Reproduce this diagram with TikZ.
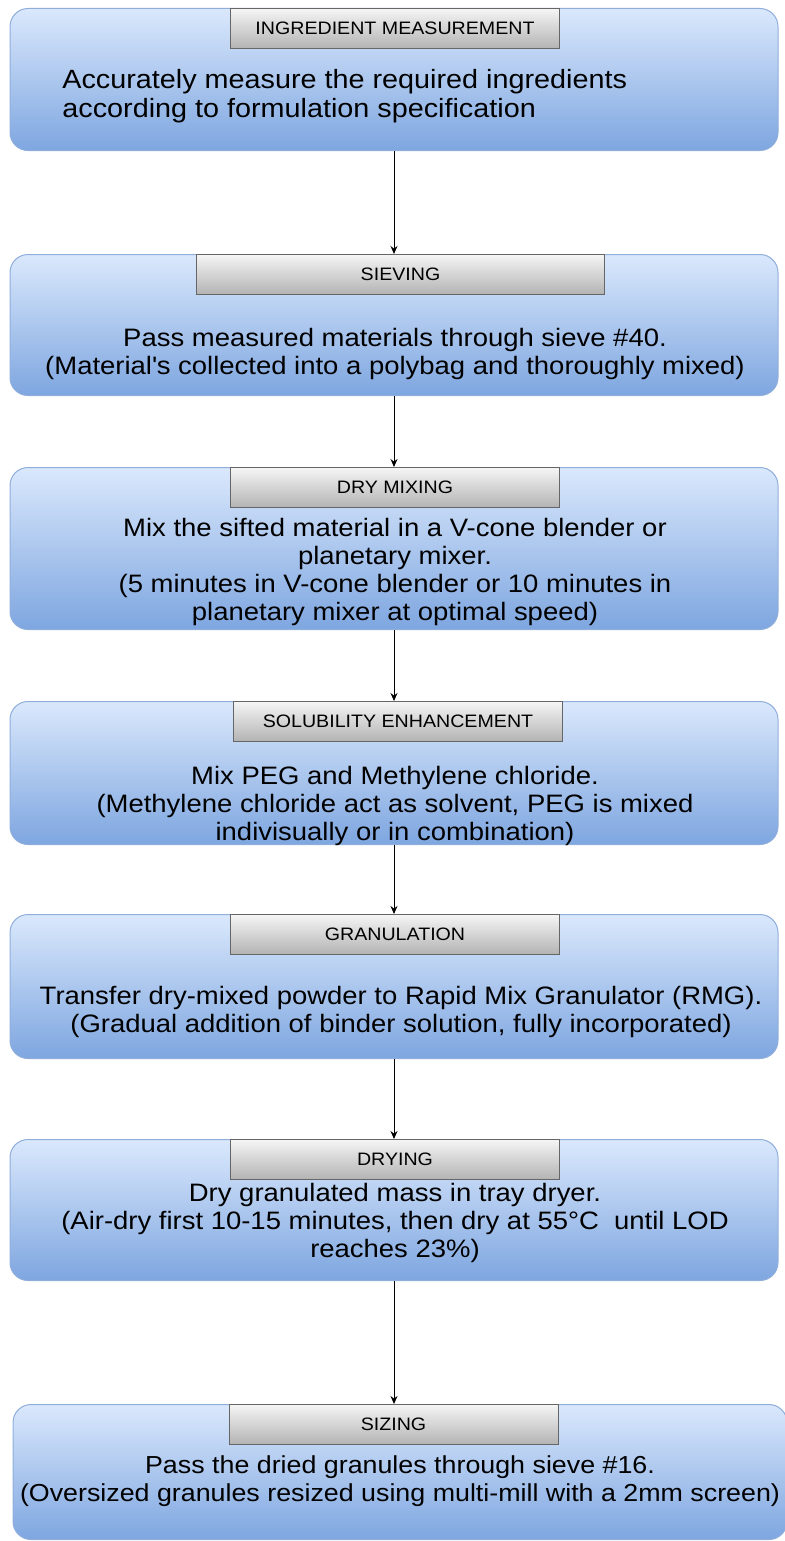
\documentclass[tikz,border=0pt]{standalone}
\usepackage{fontspec}
\setmainfont{Liberation Sans}[FakeStretch=1.09]
\usetikzlibrary{arrows.meta}
\definecolor{boxtop}{HTML}{DAE8FC}
\definecolor{boxbot}{HTML}{7EA6E0}
\definecolor{boxline}{HTML}{8FAEDB}
\definecolor{headtop}{HTML}{F5F5F5}
\definecolor{headbot}{HTML}{B3B3B3}
\definecolor{headline}{HTML}{666666}
\tikzset{
  stepbox/.style={draw=boxline, line width=0.5pt, rounded corners=9pt,
    top color=boxtop, bottom color=boxbot, minimum width=384pt,
    anchor=north, inner sep=0pt},
  headbox/.style={draw=headline, line width=0.5pt, top color=headtop,
    bottom color=headbot, minimum width=164.5pt, minimum height=20pt,
    anchor=north, inner sep=0pt, font=\fontsize{9}{11}\selectfont},
  bodytext/.style={align=center, inner sep=0pt,
    font=\fontsize{12.6}{14}\selectfont},
  flow/.style={-{Stealth[length=4pt,width=3.5pt]}, line width=0.5pt}
}
\begin{document}
\begin{tikzpicture}[x=0.5pt,y=-0.5pt]
\useasboundingbox (0,0) rectangle (784,1541);

% Step 1: ingredient measurement
\node [stepbox, minimum height=71pt] (measure) at (394,8) {};
\node [headbox] (measurehd) at (395,8) {INGREDIENT MEASUREMENT};
\node [bodytext, align=left, anchor=west, font=\fontsize{13.2}{14.5}\selectfont] (measuretx) at (62,96)
  {Accurately measure the required ingredients\\according to formulation specification};

% Step 2: sieving
\node [stepbox, minimum height=70.5pt] (sieve) at (394,254) {};
\node [headbox, minimum width=204pt] (sievehd) at (400.5,254) {SIEVING};
\node [bodytext] (sievetx) at (395,354)
  {Pass measured materials through sieve \#40.\\(Material\textquotesingle s collected into a polybag and thoroughly mixed)};

% Step 3: dry mixing
\node [stepbox, minimum height=81pt] (drymix) at (394,467) {};
\node [headbox] (drymixhd) at (395,467) {DRY MIXING};
\node [bodytext] (drymixtx) at (395,571.5)
  {Mix the sifted material in a V-cone blender or\\planetary mixer.\\(5 minutes in V-cone blender or 10 minutes in\\planetary mixer at optimal speed)};

% Step 4: solubility enhancement
\node [stepbox, minimum height=71.5pt] (soluble) at (394,701) {};
\node [headbox] (solublehd) at (398,701) {SOLUBILITY ENHANCEMENT};
\node [bodytext] (solubletx) at (395,806)
  {Mix PEG and Methylene chloride.\\(Methylene chloride act as solvent, PEG is mixed\\indivisually or in combination)};

% Step 5: granulation
\node [stepbox, minimum height=72pt] (granul) at (394,914) {};
\node [headbox] (granulhd) at (395,914) {GRANULATION};
\node [bodytext] (granultx) at (401,1011.5)
  {Transfer dry-mixed powder to Rapid Mix Granulator (RMG).\\(Gradual addition of binder solution, fully incorporated)};

% Step 6: drying
\node [stepbox, minimum height=70.5pt] (drying) at (394,1139) {};
\node [headbox] (dryinghd) at (395,1139) {DRYING};
\node [bodytext] (dryingtx) at (395,1223)
  {Dry granulated mass in tray dryer.\\(Air-dry first 10-15 minutes, then dry at 55°C\ \ until LOD\\reaches 23\%)};

% Step 7: sizing
\node [stepbox, minimum width=387pt, minimum height=67.5pt] (sizing) at (400,1404) {};
\node [headbox] (sizinghd) at (393.5,1404) {SIZING};
\node [bodytext, font=\fontsize{12.3}{14}\selectfont] (sizingtx) at (400,1481.5)
  {Pass the dried granules through sieve \#16.\\(Oversized granules resized using multi-mill with a 2mm screen)};

% Arrows between the steps
\draw [flow] (measure.south) -- (sieve.north);
\draw [flow] (sieve.south) -- (drymix.north);
\draw [flow] (drymix.south) -- (soluble.north);
\draw [flow] (soluble.south) -- (granul.north);
\draw [flow] (granul.south) -- (drying.north);
\draw [flow] (drying.south) -- (drying.south |- sizing.north);
\end{tikzpicture}
\end{document}
